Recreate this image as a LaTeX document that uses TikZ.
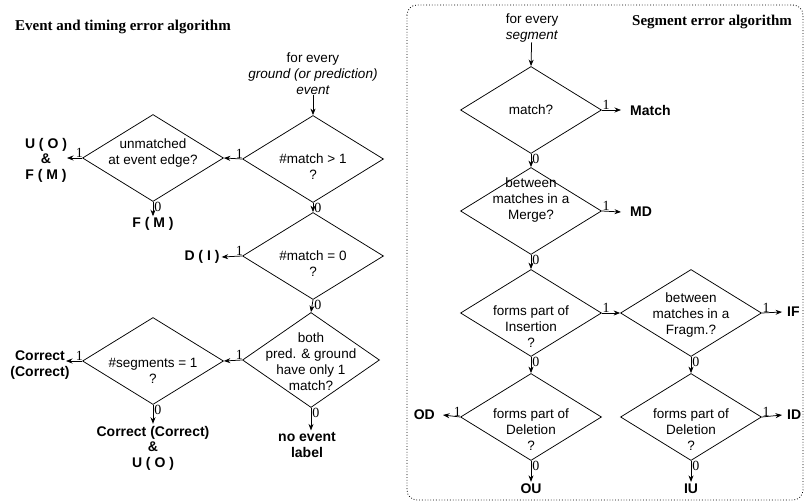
\documentclass[tikz,border=0pt]{standalone}
\usepackage{fontspec}
\setmainfont{Liberation Sans}
\newfontfamily\serifb{Liberation Serif}
\usetikzlibrary{shapes.geometric,arrows.meta}
\begin{document}
\begin{tikzpicture}[x=1pt,y=-1pt,
 dia/.style={draw, diamond, inner sep=0pt, minimum width=141pt, minimum height=87pt, line width=0.75pt},
 txt/.style={align=center, font=\fontsize{13.5}{16}\selectfont, inner sep=0pt},
 res/.style={align=center, font=\fontsize{14}{15.5}\selectfont\bfseries, inner sep=0pt},
 num/.style={font=\serifb\fontsize{14}{14}\selectfont, inner sep=0.3pt},
 title/.style={font=\serifb\fontsize{15}{15}\selectfont\bfseries, inner sep=0pt},
 arr/.style={-{Stealth[length=6.5pt,width=5pt]}, line width=0.75pt},
 oneL/.style={pos=0, anchor=south east, num, xshift=1.5pt},
 oneR/.style={pos=0, anchor=south west, num},
 zero/.style={pos=0, anchor=north west, num, inner sep=0pt, xshift=1pt},
]
\useasboundingbox (0,0) rectangle (805,502);

% ---------------- left part ----------------
\node[title] (t1) at (123,27) {Event and timing error algorithm};
\node[txt] (start1) at (313,74) {for every\\\textit{ground (or prediction)}\\\textit{event}};

\node[dia] (a1) at (313,159) {};
\node[txt] (a1t) at (313,167) {\#match > 1\\?};
\draw[arr] (start1) -- (a1.north);

\node[dia] (a2) at (153,158) {};
\node[txt] (a2t) at (153,153) {unmatched\\at event edge?};
\draw[arr] (a1.west) -- node[oneL]{1} (a2.east);

\node[res] (a2r) at (46,160) {U ( O )\\\&\\F ( M )};
\coordinate (a2e) at (67,158);
\draw[arr] (a2.west) -- node[oneL]{1} (a2e);

\node[res] (a2b) at (153,224) {F ( M )};
\draw[arr] (a2.south) -- node[zero]{0} ([yshift=1pt]a2b.north);

\node[dia] (a3) at (313,256) {};
\node[txt] (a3t) at (313,264) {\#match = 0\\?};
\draw[arr] (a1.south) -- node[zero]{0} (a3.north);

\node[res] (a3r) at (202,257) {D ( I )};
\draw[arr] (a3.west) -- node[oneL]{1} ([xshift=2pt]a3r.east);

\node[dia, minimum width=137pt, minimum height=95pt] (a4) at (311,360) {};
\node[txt] (a4t) at (311,362) {both\\pred. \& ground\\have only 1\\match?};
\draw[arr] (a3.south) -- node[zero]{0} (a4.north);

\node[dia] (a5) at (153,361) {};
\node[txt] (a5t) at (153,371) {\#segments = 1\\?};
\draw[arr] (a4.west) -- node[oneL]{1} (a5.east);

\node[res] (a5r) at (40,365) {Correct\\(Correct)};
\coordinate (a5e) at (66,361);
\draw[arr] (a5.west) -- node[oneL]{1} (a5e);

\node[res] (a5b) at (153,448) {Correct (Correct)\\\&\\U ( O )};
\draw[arr] (a5.south) -- node[zero]{0} ([yshift=2pt]a5b.north);

\node[res] (a4b) at (307,445) {no event\\label};
\draw[arr] (a4.south) -- node[zero]{0} ([yshift=2pt]a4.south |- a4b.north);

% ---------------- right part ----------------
\draw[dotted, line width=0.8pt, rounded corners=10pt] (407,5) rectangle (803,500);
\node[title] (t2) at (712,22) {Segment error algorithm};
\node[txt] (start2) at (532,28) {for every\\\textit{segment}};

\node[dia] (b1) at (531,110) {};
\node[txt] (b1t) at (531,110) {match?};
\draw[arr] (start2) -- (b1.north);
\node[res, anchor=west] (b1r) at (630,110) {Match};
\draw[arr] (b1.east) -- node[oneR]{1} ([xshift=-9pt]b1r.west);

\node[dia] (b2) at (531,211) {};
\node[txt] (b2t) at (531,200) {between\\matches in a\\Merge?};
\draw[arr] (b1.south) -- node[zero]{0} (b2.north);
\node[res, anchor=west] (b2r) at (630,212) {MD};
\draw[arr] (b2.east) -- node[oneR]{1} ([xshift=-9pt]b2r.west);

\node[dia] (b3) at (531,313) {};
\node[txt] (b3t) at (531,327) {forms part of\\Insertion\\?};
\draw[arr] (b2.south) -- node[zero]{0} (b3.north);

\node[dia] (b4) at (691,313) {};
\node[txt] (b4t) at (691,315) {between\\matches in a\\Fragm.?};
\draw[arr] (b3.east) -- node[oneR]{1} (b4.west);
\node[res, anchor=west] (b4r) at (787,312) {IF};
\draw[arr] (b4.east) -- node[oneR]{1} ([xshift=-5pt]b4r.west);

\node[dia] (b5) at (531,417) {};
\node[txt] (b5t) at (531,430) {forms part of\\Deletion\\?};
\draw[arr] (b3.south) -- node[zero]{0} (b5.north);
\node[res, anchor=east] (b5r) at (435,415) {OD};
\draw[arr] (b5.west) -- node[oneL]{1} ([xshift=8pt]b5r.east);
\node[res] (b5b) at (531,489) {OU};
\draw[arr] (b5.south) -- node[zero]{0} ([yshift=2pt]b5b.north);

\node[dia] (b6) at (691,417) {};
\node[txt] (b6t) at (691,430) {forms part of\\Deletion\\?};
\draw[arr] (b4.south) -- node[zero]{0} (b6.north);
\node[res, anchor=west] (b6r) at (787,415) {ID};
\draw[arr] (b6.east) -- node[oneR]{1} ([xshift=-5pt]b6r.west);
\node[res] (b6b) at (691,489) {IU};
\draw[arr] (b6.south) -- node[zero]{0} ([yshift=2pt]b6b.north);
\end{tikzpicture}
\end{document}
